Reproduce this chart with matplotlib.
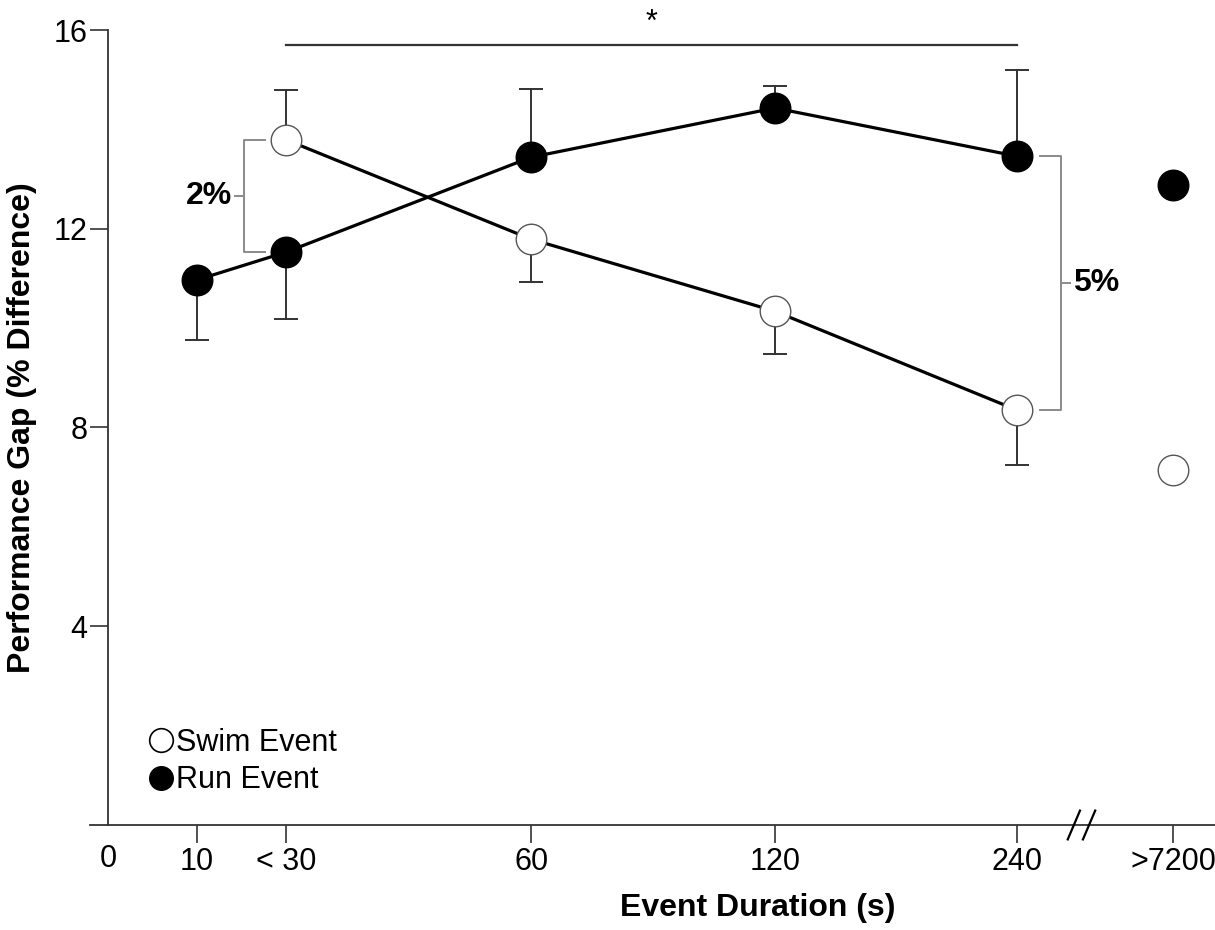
import matplotlib
matplotlib.use("Agg")
import matplotlib.pyplot as plt
from matplotlib.lines import Line2D

plt.rcParams['font.family'] = ['Liberation Sans', 'DejaVu Sans']

# ---- data ----
categories = ["10", "< 30", "60", "120", "240", ">7200"]
swim_values = [None, 13.79, 11.79, 10.34, 8.35, 7.14]
swim_err_low = [None, 0.0, 0.86, 0.86, 1.11, 0.0]
swim_err_high = [None, 1.00, 0.0, 0.0, 0.0, 0.0]
run_values = [10.97, 11.53, 13.44, 14.43, 13.46, 12.88]
run_err_low = [1.21, 1.35, 0.0, 0.0, 0.0, 0.0]
run_err_high = [0.0, 0.0, 1.37, 0.44, 1.73, 0.0]
yticks = [4, 8, 12, 16]

# ---- layout (category positions on the axis) ----
xpos = [0.363, 0.727, 1.727, 2.722, 3.710, 4.347]
break_x = 3.973

fig = plt.figure(figsize=(12.15, 9.3), dpi=100)
ax = fig.add_axes([90/1215, 105/930, 1125/1215, 795/930])
ax.set_xlim(-0.0735, 4.518)
ax.set_ylim(0, 16)

spine_c = '#333333'
for s in ['top', 'right']:
    ax.spines[s].set_visible(False)
ax.spines['left'].set_position(('data', 0))
ax.spines['left'].set_color(spine_c)
ax.spines['bottom'].set_color(spine_c)
ax.spines['left'].set_linewidth(1.3)
ax.spines['bottom'].set_linewidth(1.3)

ax.set_yticks(yticks)
ax.set_yticklabels([str(v) for v in yticks])
ax.tick_params(axis='y', direction='out', length=13, width=1.2, color=spine_c,
               labelsize=22, pad=2)
ax.set_xticks(xpos)
ax.set_xticklabels(categories)
ax.tick_params(axis='x', direction='out', length=13, width=1.2, color=spine_c,
               labelsize=22, pad=3)
ax.text(0, -0.68, "0", ha='center', va='center', fontsize=22)


def draw_errors(vals, lows, highs):
    for i, v in enumerate(vals):
        if v is None:
            continue
        lo, hi = lows[i] or 0.0, highs[i] or 0.0
        if lo > 0:
            ax.errorbar([xpos[i]], [v], yerr=[[lo], [0]], fmt='none', ecolor='#333333',
                        elinewidth=1.4, capsize=17, capthick=1.4, zorder=1,
                        lolims=False)
        if hi > 0:
            ax.errorbar([xpos[i]], [v], yerr=[[0], [hi]], fmt='none', ecolor='#333333',
                        elinewidth=1.4, capsize=17, capthick=1.4, zorder=1)


def draw_errors_clean(vals, lows, highs):
    # draw one-sided error bars: a vertical whisker and a cap only at the far end
    for i, v in enumerate(vals):
        if v is None:
            continue
        for d in (-(lows[i] or 0.0), (highs[i] or 0.0)):
            if d == 0:
                continue
            ax.plot([xpos[i], xpos[i]], [v, v + d], color='#333333', lw=1.4, zorder=1)
            ax.plot([xpos[i]], [v + d], marker='_', ms=17, mew=1.4, color='#333333', zorder=1)


draw_errors_clean(swim_values, swim_err_low, swim_err_high)
draw_errors_clean(run_values, run_err_low, run_err_high)

sw_idx = [i for i, v in enumerate(swim_values) if v is not None]
sw_line_idx = [i for i in sw_idx if i < 5]
ax.plot([xpos[i] for i in sw_line_idx], [swim_values[i] for i in sw_line_idx],
        color='black', lw=2.3, zorder=2)
ax.plot([xpos[i] for i in range(5)], run_values[:5], color='black', lw=2.3, zorder=2)

ax.plot([xpos[i] for i in sw_idx], [swim_values[i] for i in sw_idx], 'o', ms=22,
        mfc='white', mec='#555555', mew=1.0, zorder=3, clip_on=False)
ax.plot(xpos, run_values, 'o', ms=22, mfc='black', mec='black', mew=1.0, zorder=3,
        clip_on=False)

# ---- brackets ----
gray = '#8a8a8a'
# 2% bracket
bx, bx_end = 0.555, 0.641
y_top, y_bot = swim_values[1], run_values[1]
ax.plot([bx_end, bx, bx, bx_end], [y_top, y_top, y_bot, y_bot], color=gray, lw=1.4, zorder=1)
ymid = (y_top + y_bot) / 2
ax.plot([bx - 0.035, bx], [ymid, ymid], color=gray, lw=1.4)
ax.text(bx - 0.05, ymid, "2%", ha='right', va='center', fontsize=23, fontweight='bold')
# 5% bracket
bx, bx_end = 3.890, 3.805
y_top, y_bot = run_values[4], swim_values[4]
ax.plot([bx_end, bx, bx, bx_end], [y_top, y_top, y_bot, y_bot], color=gray, lw=1.4, zorder=1)
ymid = (y_top + y_bot) / 2
ax.plot([bx, bx + 0.035], [ymid, ymid], color=gray, lw=1.4)
ax.text(bx + 0.05, ymid, "5%", ha='left', va='center', fontsize=23, fontweight='bold')

# ---- significance line ----
ax.plot([xpos[1], xpos[4]], [15.69, 15.69], color='#333333', lw=1.6, clip_on=False)
ax.text((xpos[1] + xpos[4]) / 2, 15.85, "*", ha='center', va='bottom', fontsize=22)

# ---- axis break ----
for dx in (-0.031, 0.031):
    ax.plot([break_x + dx - 0.025, break_x + dx + 0.025], [-0.29, 0.29], color='black',
            lw=1.6, clip_on=False, zorder=4)

# ---- labels ----
ax.set_ylabel("Performance Gap (% Difference)", fontsize=23, fontweight='bold')
ax.yaxis.set_label_coords(-0.047, 0.5)
ax.set_xlabel("Event Duration (s)", fontsize=23, fontweight='bold')
ax.xaxis.set_label_coords((758 - 90) / 1125, -0.085)

# ---- legend ----
handles = [Line2D([], [], ls='none', marker='o', ms=17, mfc='white', mec='black', mew=1.2),
           Line2D([], [], ls='none', marker='o', ms=17, mfc='black', mec='black')]
ax.legend(handles, ["Swim Event", "Run Event"], loc='lower left',
          bbox_to_anchor=(0.036, 0.018), frameon=False, fontsize=22,
          handletextpad=0.0, handlelength=1.0, labelspacing=0.25, borderpad=0)

fig.savefig("out.png", dpi=100)
